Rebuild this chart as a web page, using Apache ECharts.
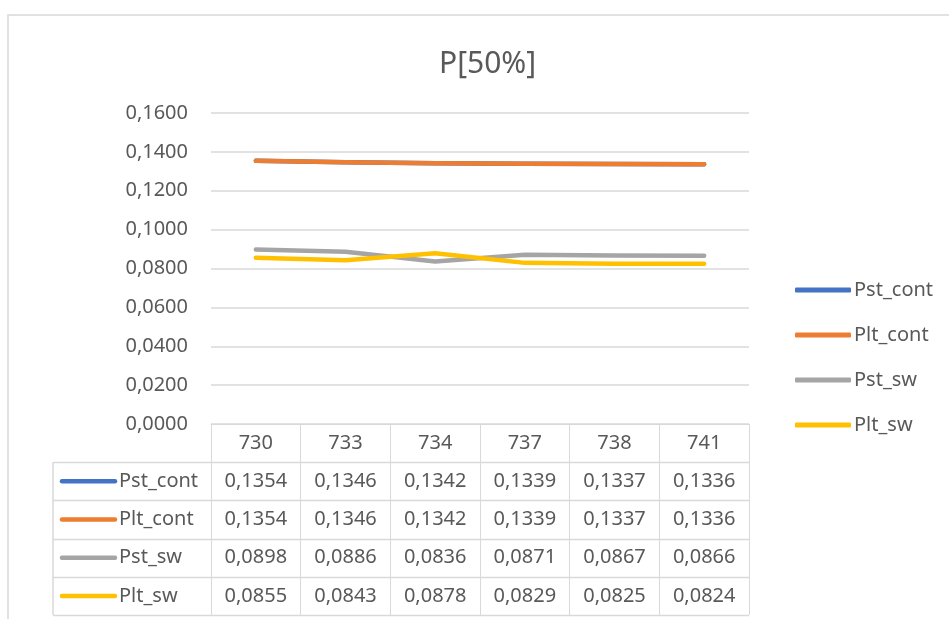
<!DOCTYPE html>
<html>
<head>
<meta charset="UTF-8">
<title>P[50%]</title>
<script src="https://cdn.jsdelivr.net/npm/echarts@6/dist/echarts.min.js"></script>
<style type="text/css">
    html,body{margin:0;padding:0;background:#fff;}
</style>
</head>
<body>
<div id="container" style="width:949px;height:619px"></div>
<script type="text/javascript">
// data
var categories = ['730', '733', '734', '737', '738', '741'];
var names = ['Pst_cont', 'Plt_cont', 'Pst_sw', 'Plt_sw'];
var pstCont = [0.1354, 0.1346, 0.1342, 0.1339, 0.1337, 0.1336];
var pltCont = [0.1354, 0.1346, 0.1342, 0.1339, 0.1337, 0.1336];
var pstSw = [0.0898, 0.0886, 0.0836, 0.0871, 0.0867, 0.0866];
var pltSw = [0.0855, 0.0843, 0.0878, 0.0829, 0.0825, 0.0824];
var colors = ['#4472C4', '#ED7D31', '#A5A5A5', '#FFC000'];
var seriesData = [pstCont, pltCont, pstSw, pltSw];

var font = 'Noto Sans';
var txt = '#595959';
var gridCol = '#d9d9d9';

// layout
var gridLeft = 211, gridRight = 200, gridTop = 113, gridBottom = 195;
var tableTop = 619 - gridBottom;
var rowH = 38.2;
var tableLeft = 53;

function fmt(v) { return v.toFixed(4).replace('.', ','); }

var chart = echarts.init(document.getElementById('container'));

var series = names.map(function (n, i) {
    return {
        name: n,
        type: 'line',
        data: seriesData[i],
        showSymbol: false,
        symbol: 'none',
        lineStyle: { width: 4.5, color: colors[i], cap: 'round', join: 'round' },
        itemStyle: { color: colors[i] },
        z: 2 + i
    };
});

var option = {
    animation: false,
    color: colors,
    title: {
        text: 'P[50%]',
        left: 434,
        top: 40,
        textStyle: { fontFamily: font, fontSize: 30, fontWeight: 'normal', color: txt, lineHeight: 38 }
    },
    legend: {
        orient: 'vertical',
        left: 790,
        top: 273,
        itemWidth: 56,
        itemHeight: 5,
        itemGap: 21,
        icon: 'roundRect',
        textStyle: { fontFamily: font, fontSize: 20, color: txt, lineHeight: 24, padding: [0, 0, 0, -2] },
        data: names
    },
    grid: { left: gridLeft, right: gridRight, top: gridTop, bottom: gridBottom },
    xAxis: {
        type: 'category',
        data: categories,
        boundaryGap: true,
        axisLine: { lineStyle: { color: gridCol } },
        axisTick: { show: true, length: 619 - tableTop - 4, lineStyle: { color: gridCol } },
        axisLabel: { margin: 0, fontFamily: font, fontSize: 20, color: txt, lineHeight: rowH }
    },
    yAxis: {
        type: 'value',
        min: 0,
        max: 0.16,
        interval: 0.02,
        axisLine: { show: false },
        axisTick: { show: false },
        splitLine: { lineStyle: { color: gridCol, width: 1.5 } },
        axisLabel: { margin: 23, fontFamily: font, fontSize: 20, color: txt, formatter: fmt }
    },
    series: series
};
chart.setOption(option);

// data table below the plot
var gridRightX = 949 - gridRight;
var g = [];
// chart frame
g.push({ type: 'rect', shape: { x: 8, y: 15, width: 1200, height: 800 },
    style: { fill: null, stroke: gridCol, lineWidth: 1.5 }, silent: true });
for (var r = 1; r <= 5; r++) {
    var y = Math.round(tableTop + r * rowH) + 0.5;
    g.push({ type: 'line', shape: { x1: tableLeft, y1: y, x2: gridRightX, y2: y },
        style: { stroke: gridCol, lineWidth: 1.5 }, silent: true });
}
g.push({ type: 'line', shape: { x1: tableLeft, y1: tableTop + rowH, x2: tableLeft, y2: tableTop + 5 * rowH },
    style: { stroke: gridCol, lineWidth: 1.5 }, silent: true });
names.forEach(function (n, i) {
    var cy = tableTop + (i + 1.5) * rowH;
    g.push({ type: 'line', shape: { x1: 62, y1: cy, x2: 115, y2: cy },
        style: { stroke: colors[i], lineWidth: 4.5, lineCap: 'round' }, silent: true });
    g.push({ type: 'text', x: 119, y: cy,
        style: { text: n, fill: txt, font: '20px "Noto Sans"', textVerticalAlign: 'middle', textAlign: 'left' } });
    categories.forEach(function (c, j) {
        var cx = chart.convertToPixel({ xAxisIndex: 0 }, c);
        g.push({ type: 'text', x: cx, y: cy,
            style: { text: fmt(seriesData[i][j]), fill: txt, font: '20px "Noto Sans"', textVerticalAlign: 'middle', textAlign: 'center' } });
    });
});
chart.setOption({ graphic: g });
</script>
</body>
</html>
